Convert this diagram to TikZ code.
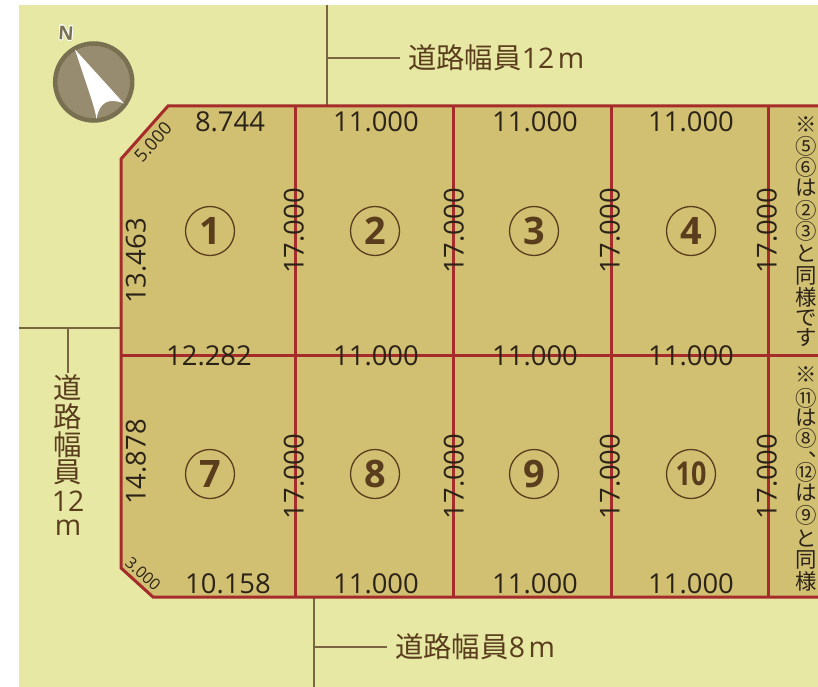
\documentclass[tikz,border=0pt]{standalone}
\usepackage{fontspec}
\setmainfont{Open Sans}
\newfontfamily\jp{Noto Sans CJK JP}
\usepackage{contour}
\definecolor{bgc}{HTML}{E6E8A4}
\definecolor{lotc}{HTML}{D1BF72}
\definecolor{linec}{HTML}{A52C2A}
\definecolor{brownc}{HTML}{5A3D1C}
\definecolor{inkc}{HTML}{2B2318}
\definecolor{leadc}{HTML}{7A6540}
\definecolor{ringc}{HTML}{787050}
\definecolor{discc}{HTML}{988C70}
\tikzset{
  dimlab/.style={font=\fontsize{27.5}{28}\selectfont,text=inkc,inner sep=0pt},
  smalldim/.style={font=\fontsize{18}{18}\selectfont,text=inkc,inner sep=0pt},
  lotnum/.style={circle,draw=brownc,line width=1.3pt,minimum size=49bp,inner sep=0pt,text=brownc,font=\fontsize{38}{38}\selectfont\bfseries},
  roadlab/.style={font=\fontsize{28.5}{29}\selectfont,text=brownc,inner sep=0pt},
  notech/.style={font=\jp\fontsize{21.5}{22}\selectfont,text=inkc,inner sep=0pt},
  lotline/.style={draw=linec,line width=3bp},
  leader/.style={draw=leadc,line width=1.1bp},
}
\begin{document}
\begin{tikzpicture}[x=1bp,y=-1bp]
\useasboundingbox (0,0) rectangle (818,687);
\fill[white] (0,0) rectangle (818,687);
\fill[bgc] (19,5) rectangle (818,687);
% leaders
\coordinate (rt) at (327,5); \coordinate (rb) at (327,106);
\coordinate (rm) at (327,58);
\coordinate (lt) at (19,328); \coordinate (lb) at (121,328);
\coordinate (lm) at (68,328);
\coordinate (bt) at (314,597); \coordinate (bb) at (314,687);
\coordinate (bm) at (314,647);
\node[roadlab,anchor=west] (top road) at (408,58) {{\jp 道路幅員}12\kern3.5bp m};
\node[roadlab,anchor=west] (bottom road) at (395,647) {{\jp 道路幅員}8\kern3.5bp m};
\draw[leader] (rt) -- (rb);
\draw[leader] (rm) -- ([xshift=-8bp]top road.west);
\draw[leader] (lt) -- (lb);
\draw[leader] (bt) -- (bb);
\draw[leader] (bm) -- ([xshift=-8bp]bottom road.west);
\node[roadlab] (l1) at (68,388) {\jp 道};
\node[roadlab] (l2) at (68,417) {\jp 路};
\node[roadlab] (l3) at (68,445) {\jp 幅};
\node[roadlab] (l4) at (68,472) {\jp 員};
\node[roadlab] (l5) at (68,501) {12};
\node[roadlab] (l6) at (68,528) {m};
\draw[leader] (lm) -- ([yshift=2bp]l1.north);
% lots
\fill[lotc] (168,106) -- (818,106) -- (818,597) -- (153,597) -- (121,568) -- (121,159) -- cycle;
\draw[lotline] (818,106) -- (168,106) -- (121,159) -- (121,568) -- (153,597) -- (818,597);
\draw[lotline] (121,355) -- (818,355);
\foreach \x in {295,453.5,611,768} \draw[lotline] (\x,106) -- (\x,597);
% compass
\fill[discc,draw=ringc,line width=4.5bp] (93.7,82) circle (38.5);
\fill[white] (75,49.5) -- (124,103.5) .. controls (108,97) and (99,103) .. (96.5,119) .. controls (95,108) and (90,95) .. cycle;
\node[inner sep=0pt,rotate=-4,text=ringc,font=\fontsize{19}{19}\selectfont\bfseries] (north) at (66,33.5) {\contourlength{0.8pt}\contour{white}{N}};
% lot numbers
\foreach \n/\t/\x/\y in {a/1/210/231,b/2/375/231,c/3/534/231,d/4/691/231,e/7/210/474,f/8/375/474,g/9/534/474}
  \node[lotnum] (lot\n) at (\x,\y) {\t};
\node[lotnum,font=\fontsize{33}{33}\selectfont\bfseries] (loth) at (691,474) {\hbox{\scalebox{0.82}[1]{10}}};
% dimensions
\foreach \n/\t/\x/\y in {a/8.744/230/121.5,b/11.000/376/121.5,c/11.000/535/121.5,d/11.000/691/121.5,
  e/12.282/209/356,f/11.000/376/355.5,g/11.000/535/355.5,h/11.000/691/355.5,
  i/10.158/228/583.5,j/11.000/376/583.5,k/11.000/535/583.5,l/11.000/691/583.5}
  \node[dimlab] (dim\n) at (\x,\y) {\t};
\foreach \n/\t/\x/\y in {m/13.463/136/261,n/14.878/136/462,
  o/17.000/294/231,p/17.000/454/231,q/17.000/610/231,r/17.000/767/231,
  s/17.000/294/476.5,t/17.000/454/476.5,u/17.000/610/476.5,v/17.000/767/476.5}
  \node[dimlab,rotate=90] (dim\n) at (\x,\y) {\t};
\node[smalldim,rotate=48] (dimw) at (153,142) {5.000};
\node[smalldim,rotate=-42,font=\fontsize{16}{16}\selectfont] (dimx) at (143,574) {3.000};
% notes
\foreach \n/\t/\y in {a/※/125,b/⑤/146,c/⑥/167,d/は/188,e/②/210,f/③/231,g/と/253,h/同/276,i/様/297,j/で/318,k/す/338}
  \node[notech] (nt\n) at (806,\y) {\t};
\foreach \n/\t/\y in {a/※/375,b/⑪/398,c/は/418,d/⑧/438,f/⑫/472,g/は/493,h/⑨/515,i/と/538,j/同/560,k/様/581}
  \node[notech] (nb\n) at (806,\y) {\t};
\node[notech,anchor=base] (nbe) at (808.5,456) {\rlap{、}};
\end{tikzpicture}
\end{document}
